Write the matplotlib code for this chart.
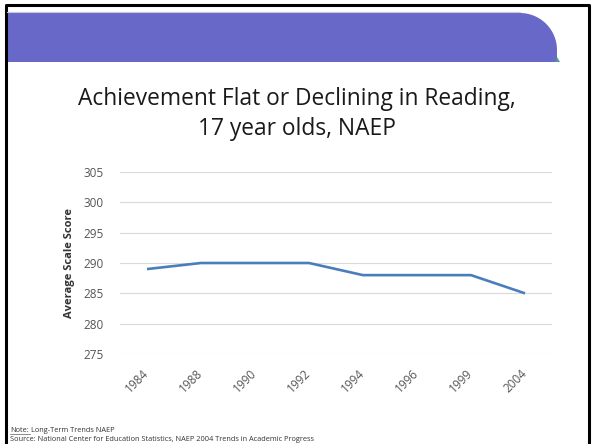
import matplotlib
matplotlib.use("Agg")
import numpy as np
import matplotlib.pyplot as plt
import matplotlib.transforms as mtransforms
from matplotlib.patches import Polygon
from matplotlib.lines import Line2D

# Data
years = ["1984", "1988", "1990", "1992", "1994", "1996", "1999", "2004"]
scores = [289, 290, 290, 290, 288, 288, 288, 285]
y_ticks = [275, 280, 285, 290, 295, 300, 305]

W, H = 594, 444
fig = plt.figure(figsize=(W / 100, H / 100), dpi=100)
plt.rcParams['font.family'] = ['Open Sans', 'DejaVu Sans']


def fx(x):
    return x / W


def fy(y):
    return 1 - y / H


# Slide frame (left, top, right edges)
fig.add_artist(Line2D([fx(5.5), fx(5.5), fx(589), fx(589)], [0, fy(5), fy(5), 0],
                      color='black', lw=2.2, transform=fig.transFigure))

# Purple banner with rounded top-right corner
r = 37
ang = np.linspace(np.pi / 2, 0, 20)
arc_x = 557 - r + r * np.cos(ang)
arc_y = 13 + r - r * np.sin(ang)
bx = [7] + list(arc_x) + [557, 7]
by = [13] + list(arc_y) + [62, 62]
fig.add_artist(Polygon(np.column_stack([[fx(v) for v in bx], [fy(v) for v in by]]),
                       closed=True, color='#6868c9', lw=0,
                       transform=fig.transFigure))
fig.add_artist(Polygon([[fx(555), fy(62)], [fx(560), fy(62)], [fx(557), fy(57)]],
                       closed=True, color='#4f9a8f', lw=0,
                       transform=fig.transFigure))
fig.add_artist(Line2D([fx(7), fx(520)], [fy(12.3)] * 2, color='#c8c8d8',
                      lw=0.8, transform=fig.transFigure))

# Title
fig.text(0.5, fy(99), "Achievement Flat or Declining in Reading,",
         ha='center', va='center', fontsize=16.4, color='#1a1a1a')
fig.text(0.5, fy(129), "17 year olds, NAEP",
         ha='center', va='center', fontsize=16.4, color='#1a1a1a')

# Chart
ax = fig.add_axes([fx(120), fy(354), 432 / W, 182 / H])
x = list(range(len(years)))
ax.plot(x, scores, color='#4a7ebb', lw=1.9, solid_capstyle='butt')
ax.set_xlim(-0.5, len(years) - 0.5)
ax.set_ylim(275, 305)
ax.set_yticks(y_ticks)
ax.set_xticks(x)
ax.set_xticklabels(years, rotation=45, ha='right', rotation_mode='anchor')
ax.grid(axis='y', color='#d9d9d9', lw=0.8)
ax.set_axisbelow(True)
for s in ax.spines.values():
    s.set_visible(False)
ax.tick_params(length=0, labelsize=8.5, labelcolor='#555555')
ax.tick_params(axis='y', pad=12)
ax.tick_params(axis='x', pad=9)

# nudge rotated year labels left so their top-right sits under the point
shift = mtransforms.ScaledTranslation(-5 / 100, 0, fig.dpi_scale_trans)
for lab in ax.get_xticklabels():
    lab.set_transform(lab.get_transform() + shift)

ax.set_ylabel("Average Scale Score", fontsize=8, fontweight='bold',
              color='#333333', labelpad=6)

# Footnotes
fig.text(fx(10), fy(430), "Note:", fontsize=5.3, color='#333333', va='center')
fig.add_artist(Line2D([fx(10), fx(30)], [fy(434)] * 2, color='#333333',
                      lw=0.4, transform=fig.transFigure))
fig.text(fx(31), fy(430), "Long-Term Trends NAEP", fontsize=5.3,
         color='#333333', va='center')
fig.text(fx(10), fy(439.5),
         "Source: National Center for Education Statistics, NAEP 2004 Trends in Academic Progress",
         fontsize=5.3, color='#333333', va='center')

fig.savefig("out.png", dpi=100, facecolor='white')
